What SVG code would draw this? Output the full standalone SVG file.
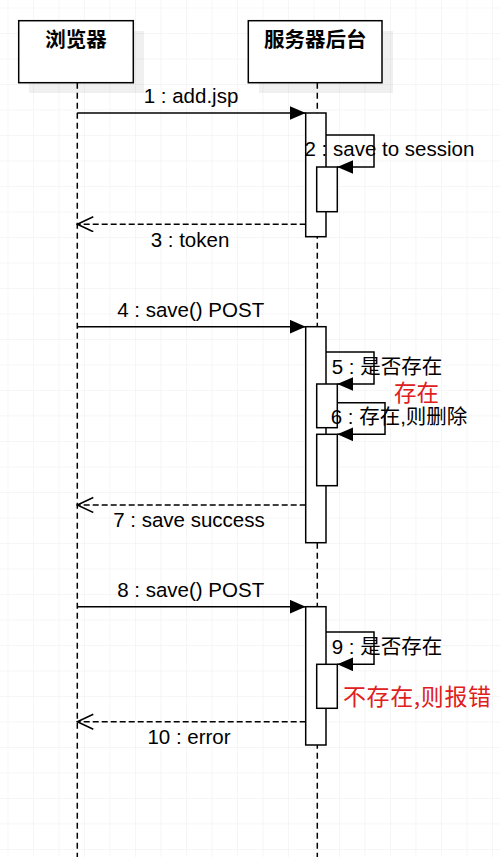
<svg xmlns="http://www.w3.org/2000/svg" width="500" height="857" viewBox="0 0 500 857">
<style>
.lbl{font-family:"Liberation Sans","Noto Sans CJK SC",Arial,sans-serif;font-size:20.5px;fill:#000}
.hdr{font-family:"Liberation Sans","Noto Sans CJK SC",Arial,sans-serif;font-size:20.5px;font-weight:bold;fill:#000}
.red{font-family:"Noto Sans CJK SC","Liberation Sans",sans-serif;font-size:23px;font-weight:normal;fill:#e02020}
.box{fill:#fff;stroke:#000;stroke-width:1.5}
.shadow{fill:#000;fill-opacity:0.06}
.life{fill:none;stroke:#000;stroke-width:1.5;stroke-dasharray:6 4}
.msg{fill:none;stroke:#000;stroke-width:1.5}
.ret{fill:none;stroke:#000;stroke-width:1.5;stroke-dasharray:6 3}
</style>
<defs>
<pattern id="grid" x="7.5" y="7.5" width="25.5" height="25.5" patternUnits="userSpaceOnUse">
<path d="M0,0 H25.5 M0,0 V25.5" fill="none" stroke="#eeeeee" stroke-width="1"/>
</pattern>
<marker id="fill" markerUnits="userSpaceOnUse" markerWidth="17" markerHeight="15" refX="16" refY="7" orient="auto">
<path d="M0,0 L16,7 L0,14 Z" fill="#000"/>
</marker>
<marker id="open" markerUnits="userSpaceOnUse" markerWidth="18" markerHeight="17" refX="16.5" refY="8" orient="auto">
<path d="M0.5,0.5 L16.5,8 L0.5,15.5" fill="none" stroke="#000" stroke-width="1.5"/>
</marker>
</defs>
<rect width="500" height="857" fill="#fff"/>
<rect width="500" height="857" fill="url(#grid)"/>

<g id="browser">
<rect class="shadow" x="29" y="31" width="115" height="62"/>
<rect class="box" x="18.7" y="20.7" width="114.6" height="62"/>
<text class="hdr" x="76" y="47" text-anchor="middle">浏览器</text>
<line class="life" x1="77.3" y1="82.7" x2="77.3" y2="857"/>
</g>

<g id="server">
<rect class="shadow" x="259" y="31" width="134" height="62"/>
<rect class="box" x="248.3" y="20.7" width="133.7" height="62"/>
<text class="hdr" x="315.2" y="47" text-anchor="middle">服务器后台</text>
<line class="life" x1="317.3" y1="82.7" x2="317.3" y2="857"/>
</g>

<g id="activations">
<rect class="box" x="305.7" y="113" width="20.3" height="123.7"/>
<rect class="box" x="316.7" y="167" width="20.6" height="44.7"/>
<rect class="box" x="305.7" y="326.7" width="20.3" height="216"/>
<rect class="box" x="316.7" y="384" width="20.6" height="43.7"/>
<rect class="box" x="316.7" y="434.3" width="20.6" height="51.4"/>
<rect class="box" x="305.7" y="606.7" width="20.3" height="138.3"/>
<rect class="box" x="316.7" y="664.3" width="20.6" height="44"/>
</g>

<g id="connectors">
<line class="msg" x1="77.3" y1="113" x2="305.7" y2="113" marker-end="url(#fill)"/>
<path class="msg" d="M326,135 H374 V167 H337.3" marker-end="url(#fill)"/>
<line class="ret" x1="305.7" y1="224.3" x2="77.3" y2="224.3" marker-end="url(#open)"/>
<line class="msg" x1="77.3" y1="326.7" x2="305.7" y2="326.7" marker-end="url(#fill)"/>
<path class="msg" d="M326,352 H374 V384 H337.3" marker-end="url(#fill)"/>
<path class="msg" d="M337.3,402.7 H385 V434.3 H337.3" marker-end="url(#fill)"/>
<line class="ret" x1="305.7" y1="505" x2="77.3" y2="505" marker-end="url(#open)"/>
<line class="msg" x1="77.3" y1="606.7" x2="305.7" y2="606.7" marker-end="url(#fill)"/>
<path class="msg" d="M326,632 H374 V664.3 H337.3" marker-end="url(#fill)"/>
<line class="ret" x1="305.7" y1="721.7" x2="77.3" y2="721.7" marker-end="url(#open)"/>
</g>

<g id="labels">
<text class="lbl" x="191" y="103" text-anchor="middle">1 : add.jsp</text>
<text class="lbl" x="304.5" y="155.5">2 : save to session</text>
<text class="lbl" x="190" y="247" text-anchor="middle">3 : token</text>
<text class="lbl" x="190.7" y="317" text-anchor="middle">4 : save() POST</text>
<text class="lbl" x="331.7" y="373.5">5 : 是否存在</text>
<text class="red" x="394" y="401" textLength="45" lengthAdjust="spacingAndGlyphs">存在</text>
<text class="lbl" x="330.7" y="424">6 : 存在,则删除</text>
<text class="lbl" x="189" y="527" text-anchor="middle">7 : save success</text>
<text class="lbl" x="190.7" y="597" text-anchor="middle">8 : save() POST</text>
<text class="lbl" x="331.7" y="653.5">9 : 是否存在</text>
<text class="red" x="343" y="705" textLength="148" lengthAdjust="spacing">不存在,则报错</text>
<text class="lbl" x="189" y="743.5" text-anchor="middle">10 : error</text>
</g>
</svg>
